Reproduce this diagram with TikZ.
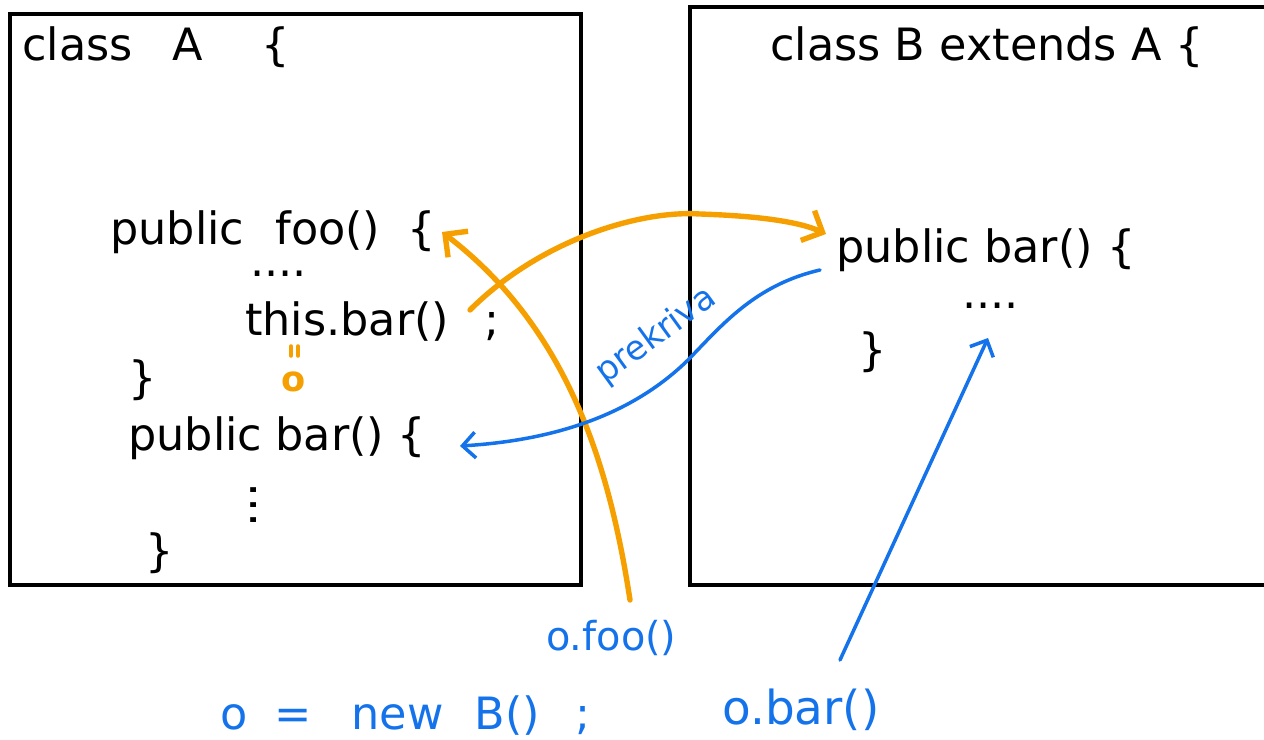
\documentclass[tikz,border=0pt]{standalone}
\usepackage{fontspec}
\setmainfont{DejaVu Sans}
\usetikzlibrary{arrows.meta}
\definecolor{ornG}{RGB}{245,160,0}
\definecolor{bluE}{RGB}{20,115,235}
\tikzset{
  code/.style={font=\fontsize{38}{44}\selectfont, inner sep=0pt, anchor=west, text=black},
  bcode/.style={code, text=bluE},
  box/.style={draw=black, line width=3pt},
  oarr/.style={draw=ornG, line width=4.6pt, line cap=round, -{Straight Barb[length=14pt,width=28pt,line width=4.6pt]}},
  barr/.style={draw=bluE, line width=3pt, line cap=round, -{Straight Barb[length=11pt,width=22pt,line width=3pt]}},
}
\begin{document}
\begin{tikzpicture}[x=0.03cm,y=-0.03cm]
\useasboundingbox (0,0) rectangle (1264,740);
% boxes
\draw[box] (10,14) rectangle (581,585);
\draw[box] (690,7) rectangle (1268,585);
% class A
\node[code] (clA) at (22,47) {class\hspace{0.9em}A\hspace{1.3em}\{};
\node[code] (foo) at (110,232) {public\hspace{0.7em}foo()\hspace{0.6em}\{};
\node[code] (dots1) at (250,274) {....};
\node[code] (thisbar) at (245,322) {this.bar()\hspace{0.8em};};
\draw[draw=ornG, line width=3pt, line cap=round] (291,346) -- (291,356) (298,346) -- (298,356);
\node[font=\fontsize{30}{34}\selectfont\bfseries, text=ornG, inner sep=0pt] (oo) at (294,382) {o};
\node[code] (br1) at (128,380) {\}};
\node[code] (barA) at (128,438) {public\hspace{0.3em}bar()\hspace{0.3em}\{};
\node[code, font=\fontsize{40}{16}\selectfont] (vdots) at (250,505) {\rotatebox{90}{...}};
\node[code] (br2) at (145,553) {\}};
% class B
\node[code] (clB) at (770,47) {class B extends A \{};
\node[code] (barB) at (836,250) {public bar() \{};
\node[code] (dots2) at (962,306) {....};
\node[code] (br3) at (858,352) {\}};
% blue text
\node[bcode, font=\fontsize{34}{40}\selectfont] (ofoo) at (546,638) {o.foo()};
\node[bcode] (onew) at (220,716) {o\hspace{0.6em}=\hspace{0.9em}new\hspace{0.7em}B()\hspace{0.8em};};
\node[bcode, font=\fontsize{40}{46}\selectfont] (obar) at (722,710) {o.bar()};
% connectors
\coordinate (fooend) at (442,232);
\coordinate (ofootop) at (630,600);
\draw[oarr] (ofootop) .. controls (610,470) and (570,330) .. (fooend);
\coordinate (tbstart) at (470,310);
\coordinate (barBin) at (826,234);
\draw[oarr] (tbstart) .. controls (540,240) and (640,210) .. (700,214) .. controls (760,216) and (800,222) .. (barBin);
\coordinate (pkstart) at (820,270);
\coordinate (barAend) at (460,446);
\draw[barr] (pkstart) .. controls (755,285) and (722,325) .. (688,360) .. controls (635,412) and (560,440) .. (barAend);
\node[font=\fontsize{29}{32}\selectfont, text=bluE, rotate=36, inner sep=0pt] (prek) at (656,336) {prekriva};
\coordinate (obartop) at (840,660);
\coordinate (dotsB) at (988,338);
\draw[barr] (obartop) -- (dotsB);
\end{tikzpicture}
\end{document}
